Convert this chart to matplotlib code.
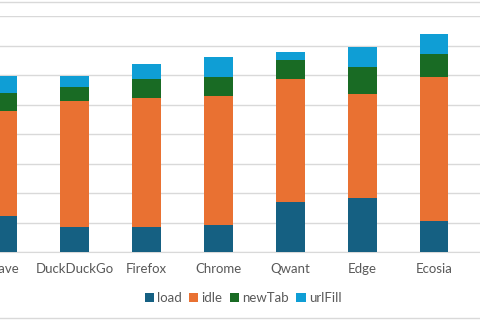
import matplotlib.pyplot as plt
from matplotlib.lines import Line2D
import numpy as np

browsers = ["Brave", "DuckDuckGo", "Firefox", "Chrome", "Qwant", "Edge", "Ecosia"]
load = [6.1, 4.3, 4.3, 4.5, 8.4, 9.1, 5.3]
idle = [17.8, 21.3, 21.8, 21.9, 20.9, 17.7, 24.4]
new_tab = [3.0, 2.3, 3.3, 3.2, 3.2, 4.5, 3.8]
url_fill = [2.9, 1.9, 2.5, 3.4, 1.4, 3.4, 3.4]

series = [("load", load, "#156082"), ("idle", idle, "#E97132"),
          ("newTab", new_tab, "#196B24"), ("urlFill", url_fill, "#0F9ED5")]

plt.rcParams['font.family'] = ['Lato', 'DejaVu Sans']

fig = plt.figure(figsize=(4.8, 3.2), dpi=100)
# the reference is a crop: plot area runs past the left and right edges
ax = fig.add_axes([-33/480, 68/320, 513/480, 236/320])

x = np.arange(len(browsers))
bottom = np.zeros(len(browsers))
for name, vals, col in series:
    ax.bar(x, vals, 0.4, bottom=bottom, color=col, label=name, zorder=3)
    bottom += np.array(vals)

ax.set_xlim(-0.5, 6.64)
ax.set_ylim(0, 40)
ax.set_yticks(np.arange(0, 41, 5))
ax.yaxis.grid(True, color="#D9D9D9", linewidth=1, zorder=0)
ax.set_yticklabels([])
ax.tick_params(axis="y", length=0)
ax.set_xticks(x)
ax.set_xticklabels(browsers, fontsize=9.5, color="#595959")
ax.tick_params(axis="x", length=0, pad=8)
for s in ["top", "right", "left"]:
    ax.spines[s].set_visible(False)
ax.spines["bottom"].set_color("#D9D9D9")

fig.legend(loc="center", bbox_to_anchor=(243/480, 1 - 298/320), ncol=4, frameon=False,
           fontsize=9.5, labelcolor="#595959", handlelength=0.7, handleheight=0.7,
           handletextpad=0.25, columnspacing=0.55)

# chart area border (top and bottom edges visible in the crop)
fig.add_artist(Line2D([0, 1], [1 - 1.5/320] * 2, color="#D9D9D9", linewidth=1))
fig.add_artist(Line2D([0, 1], [1 - 318/320] * 2, color="#D9D9D9", linewidth=1))

fig.savefig("out.png", dpi=100)
